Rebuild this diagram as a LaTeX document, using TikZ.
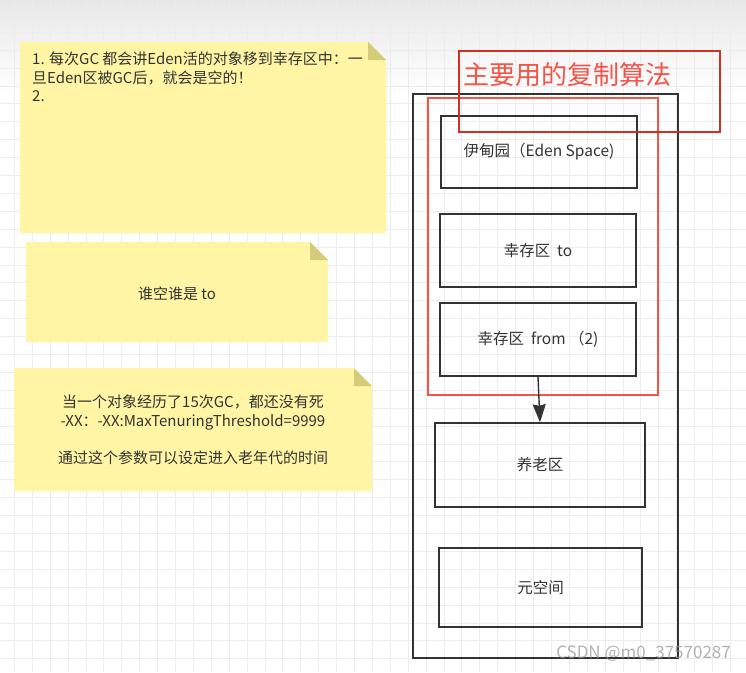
\documentclass[tikz,border=0pt]{standalone}
\usepackage{fontspec}
\setmainfont{Noto Sans CJK SC}
\usetikzlibrary{arrows.meta}

\definecolor{notefill}{RGB}{255,245,165}
\definecolor{notefold}{RGB}{212,204,122}
\definecolor{boxline}{RGB}{51,51,51}
\definecolor{copyred}{RGB}{244,84,72}
\definecolor{titlered}{RGB}{206,48,38}
\definecolor{gridline}{RGB}{236,236,236}
\definecolor{inktext}{RGB}{51,51,51}

% sticky note: name, x1, y1, x2, y2
\newcommand{\stickynote}[5]{%
  \fill[notefill] (#2,#3) -- (#4-18,#3) -- (#4,#3+18) -- (#4,#5) -- (#2,#5) -- cycle;
  \fill[notefold] (#4-18,#3) -- (#4-18,#3+18) -- (#4,#3+18) -- cycle;
  \coordinate (#1) at ({(#2+#4)/2},{(#3+#5)/2});
}

\begin{document}
\begin{tikzpicture}[x=1pt, y=-1pt,
    zone/.style = {draw=boxline, line width=1.5pt, rectangle, inner sep=0pt,
                   font=\fontsize{15.5}{18}\selectfont, text=inktext},
    copyzone/.style = {draw=copyred, line width=1.6pt, rectangle, inner sep=0pt},
    titlezone/.style = {draw=titlered, line width=1.2pt, rectangle, inner sep=0pt},
    notetext/.style = {font=\fontsize{15}{18.5}\selectfont, text=inktext, inner sep=0pt},
    flow/.style = {draw=boxline, line width=1.4pt}]
  \def\gridx{14.3};
  \def\gridstep{17.9};

  \useasboundingbox (0,0) rectangle (746,672);

  % canvas
  \fill[white] (0,0) rectangle (746,672);
  \fill[top color=black!9, bottom color=white] (0,0) rectangle (746,95);
  \foreach \i in {0,...,41}
    \draw[gridline, line width=0.8pt] ({\gridx+\gridstep*\i},0) -- ({\gridx+\gridstep*\i},672);
  \foreach \j in {0,...,37}
    \draw[gridline, line width=0.8pt] (0,{\gridx+\gridstep*\j}) -- (746,{\gridx+\gridstep*\j});

  % notes
  \begin{scope}
    \stickynote{note1}{20}{42}{386}{233}
    \stickynote{note2}{26}{242}{328}{342}
    \stickynote{note3}{14}{368}{372}{491}
    \node[notetext, anchor=north west, align=left] (survivortext) at (32,52)
      {1. 每次GC 都会讲Eden活的对象移到幸存区中：一\\旦Eden区被GC后，就会是空的！\\2.};
    \node[notetext] (swaptext) at (177,294) {谁空谁是 to};
    \node[notetext, align=center] (tenuretext) at (193,430)
      {当一个对象经历了15次GC，都还没有死\\-XX：-XX:MaxTenuringThreshold=9999\\[18.5pt]通过这个参数可以设定进入老年代的时间};
  \end{scope}

  % heap
  \begin{scope}
    \node[zone, minimum width=265, minimum height=564] (heap) at (545.5,376) {};
    \node[copyzone, minimum width=230, minimum height=297] (copy) at (543,246.5) {};
    \node[zone, minimum width=196, minimum height=72] (eden) at (539,152) {伊甸园（Eden Space)};
    \node[zone, minimum width=196, minimum height=73] (to) at (538,250.5) {幸存区\ \ to};
    \node[zone, minimum width=196, minimum height=73] (from) at (538,339.5) {幸存区\ \ from\ （2)};
    \node[zone, minimum width=210, minimum height=84] (old) at (540,465) {养老区};
    \node[zone, minimum width=203, minimum height=79] (meta) at (540.5,587.5) {元空间};
    \draw[flow, -{Stealth[length=18pt, width=13pt, inset=1.5pt]}] (from.south) -- (old.north);
  \end{scope}

  % title
  \begin{scope}
    \node[titlezone, minimum width=261, minimum height=81] (title) at (589.5,91.5) {};
    \node[anchor=west, inner sep=0pt, text=copyred, font=\fontsize{26}{29}\selectfont] (titlelabel) at (463,75) {主要用的复制算法};
  \end{scope}

  \node[anchor=east, inner sep=0pt, text=black!40, opacity=0.75, font=\fontsize{17}{19}\selectfont] (mark) at (731,654) {CSDN @m0\_37570287};
\end{tikzpicture}
\end{document}
